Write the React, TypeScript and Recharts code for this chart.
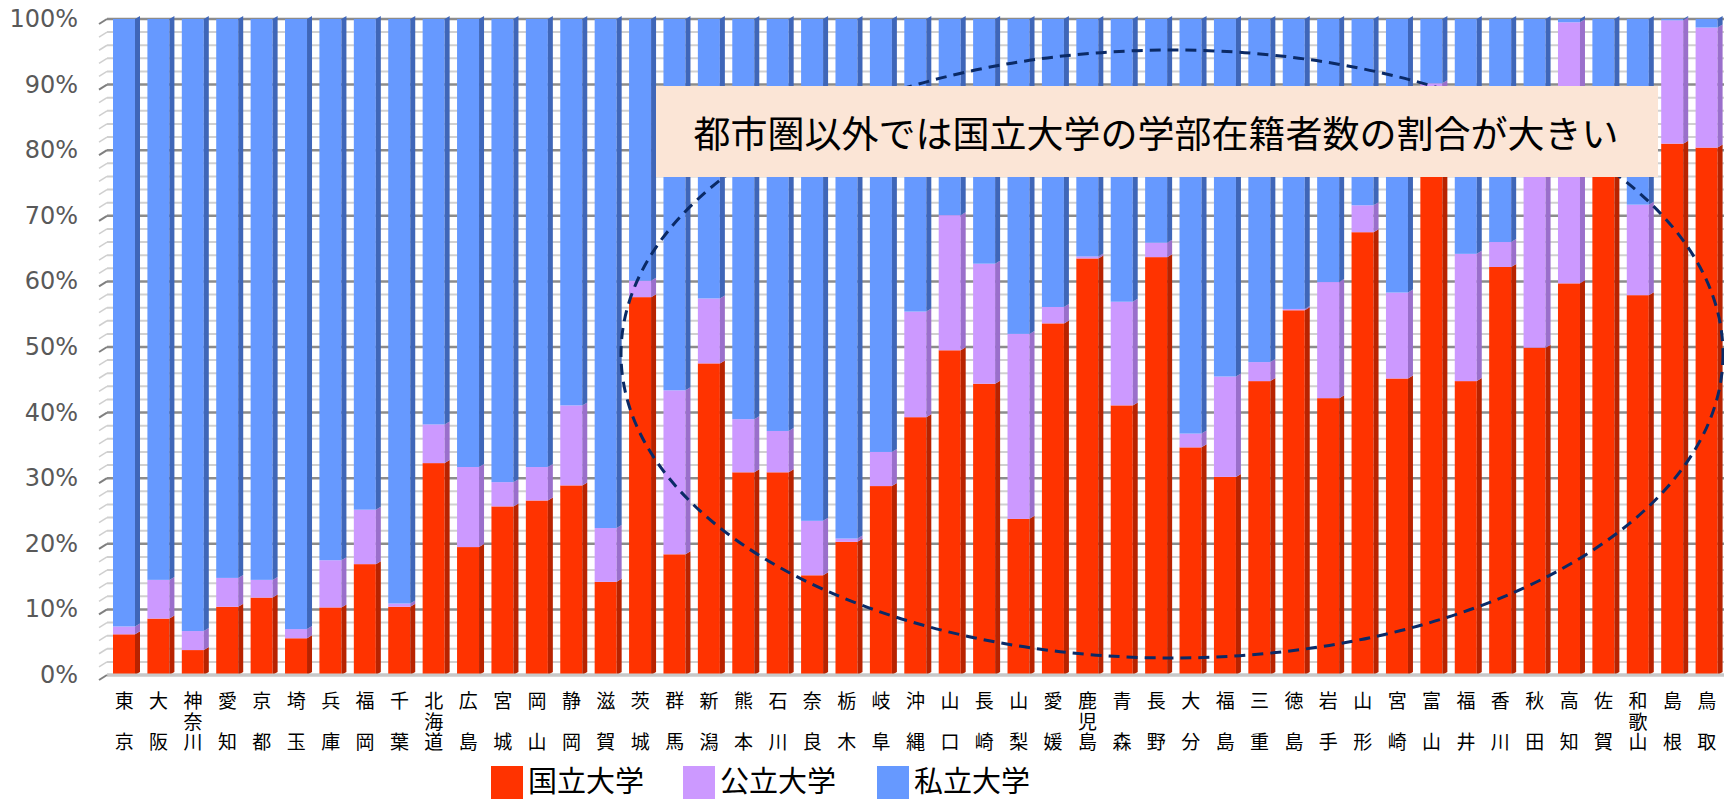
import React from 'react'
import { BarChart, Bar, XAxis, YAxis, CartesianGrid } from 'recharts'

// 都道府県別 学部在籍者数の設置者別割合（%）
const prefectures = [
  '東京', '大阪', '神奈川', '愛知', '京都', '埼玉', '兵庫', '福岡', '千葉', '北海道',
  '広島', '宮城', '岡山', '静岡', '滋賀', '茨城', '群馬', '新潟', '熊本', '石川',
  '奈良', '栃木', '岐阜', '沖縄', '山口', '長崎', '山梨', '愛媛', '鹿児島', '青森',
  '長野', '大分', '福島', '三重', '徳島', '岩手', '山形', '宮崎', '富山', '福井',
  '香川', '秋田', '高知', '佐賀', '和歌山', '島根', '鳥取',
]

const national = [
  6.2, 8.6, 3.8, 10.4, 11.8, 5.6, 10.3, 16.9, 10.4, 32.3,
  19.5, 25.7, 26.6, 28.9, 14.2, 57.6, 18.4, 47.5, 30.9, 30.9,
  15.2, 20.3, 28.8, 39.3, 49.5, 44.4, 23.8, 53.6, 63.5, 41.1,
  63.7, 34.7, 30.2, 44.8, 55.6, 42.2, 67.5, 45.2, 80.0, 44.8,
  62.2, 49.9, 59.7, 80.0, 57.9, 81.0, 80.4,
]

const publicShare = [
  1.2, 5.9, 2.9, 4.4, 2.7, 1.4, 7.2, 8.3, 0.5, 5.9,
  12.2, 3.7, 5.1, 12.2, 8.2, 2.5, 25.0, 9.9, 8.1, 6.3,
  8.3, 0.5, 5.2, 16.1, 20.6, 18.3, 28.2, 2.5, 0.3, 15.8,
  2.2, 2.1, 15.3, 2.9, 0.2, 17.7, 4.1, 13.1, 10.2, 19.4,
  3.8, 32.1, 39.8, 0.3, 13.8, 18.8, 18.3,
]

const privateShare = [
  92.6, 85.5, 93.3, 85.2, 85.5, 93.0, 82.5, 74.8, 89.1, 61.8,
  68.3, 70.6, 68.3, 58.9, 77.6, 39.9, 56.6, 42.6, 61.0, 62.8,
  76.5, 79.2, 66.0, 44.6, 29.9, 37.3, 48.0, 43.9, 36.2, 43.1,
  34.1, 63.2, 54.5, 52.3, 44.2, 40.1, 28.4, 41.7, 9.8, 35.8,
  34.0, 18.0, 0.5, 19.7, 28.3, 0.2, 1.3,
]

const yTicks = [
  0, 2, 4, 6, 8, 10, 12, 14, 16, 18, 20, 22, 24, 26, 28, 30, 32, 34, 36, 38, 40,
  42, 44, 46, 48, 50, 52, 54, 56, 58, 60, 62, 64, 66, 68, 70, 72, 74, 76, 78, 80,
  82, 84, 86, 88, 90, 92, 94, 96, 98, 100,
]

const seriesNames = ['国立大学', '公立大学', '私立大学']
const FRONT = ['#FF3300', '#CC99FF', '#6699FF']
const SIDE = ['#B82300', '#9A6FCB', '#3F66B8']

const rows = prefectures.map((name, i) => ({
  name,
  national: national[i],
  public: publicShare[i],
  private: privateShare[i],
}))

const W = 1724
const H = 799
const PLOT_LEFT = 107
const PLOT_TOP = 19
const PLOT_BOTTOM = 675
const DEPTH = 5
const CJK = '"Noto Sans CJK JP", "Noto Sans CJK SC", sans-serif'

// front face plus a darker slanted side to mimic the 3-D column look
const Block = (props: any) => {
  const { x, y, width, height, fill, side } = props
  if (!height || height <= 0) return null
  const fx = x + 2
  const fw = width - DEPTH
  const rx = fx + fw
  return (
    <g>
      <rect x={fx} y={y} width={fw} height={height} fill={fill} />
      <polygon
        points={`${rx},${y} ${rx + DEPTH},${y - 3} ${rx + DEPTH},${y + height - 3} ${rx},${y + height}`}
        fill={side}
      />
    </g>
  )
}

const YTick = ({ y, payload }: any) => {
  const v = payload.value as number
  const major = v % 10 === 0
  return (
    <g>
      <line
        x1={PLOT_LEFT - 8} y1={y + 5} x2={PLOT_LEFT} y2={y}
        stroke={major ? '#7f7f7f' : '#cfcfcf'} strokeWidth={major ? 2 : 1.5}
      />
      {major && (
        <text
          x={PLOT_LEFT - 29} y={y} textAnchor="end" dominantBaseline="central"
          fontFamily='"DejaVu Sans", Verdana, sans-serif' fontSize={24} fill="#595959"
        >
          {`${v}%`}
        </text>
      )}
    </g>
  )
}

// category names run top to bottom; two-character names are spread to fill three rows
const XTick = ({ x, y, payload }: any) => {
  const name = String(payload.value)
  const gap = name.length === 2 ? 22 : 1.5
  return (
    <text
      x={x} y={y + 8.5} textAnchor="start"
      fontFamily={CJK} fontSize={19} fill="#000"
      style={{ writingMode: 'vertical-rl', letterSpacing: gap }}
    >
      {name}
    </text>
  )
}

const GridLine = (props: any) => {
  const { x1, x2, y1, index } = props
  const major = index % 5 === 0
  return (
    <line
      key={`g-${index}`} x1={x1} x2={x2} y1={y1} y2={y1}
      stroke={major ? '#8c8c8c' : '#d0d0d0'} strokeWidth={major ? 2.5 : 2}
    />
  )
}

export default function App() {
  return (
    <div style={{ position: 'absolute', left: 0, top: 0, width: W, height: H, background: '#fff' }}>
      <BarChart
        width={W}
        height={H}
        data={rows}
        margin={{ top: PLOT_TOP, right: 0, left: 0, bottom: 0 }}
        barSize={27}
      >
        <CartesianGrid vertical={false} horizontal={GridLine} />
        <XAxis
          dataKey="name"
          interval={0}
          height={H - PLOT_BOTTOM}
          tick={<XTick />}
          tickLine={false}
          axisLine={{ stroke: '#c8c8c8', strokeWidth: 3 }}
        />
        <YAxis
          type="number"
          domain={[0, 100]}
          ticks={yTicks}
          interval={0}
          width={PLOT_LEFT}
          tick={<YTick />}
          tickLine={false}
          axisLine={false}
        />
        <Bar dataKey="national" stackId="s" name={seriesNames[0]} fill={FRONT[0]}
          shape={(p: any) => <Block {...p} side={SIDE[0]} />} isAnimationActive={false} />
        <Bar dataKey="public" stackId="s" name={seriesNames[1]} fill={FRONT[1]}
          shape={(p: any) => <Block {...p} side={SIDE[1]} />} isAnimationActive={false} />
        <Bar dataKey="private" stackId="s" name={seriesNames[2]} fill={FRONT[2]}
          shape={(p: any) => <Block {...p} side={SIDE[2]} />} isAnimationActive={false} />
      </BarChart>

      {/* callout: dashed ellipse and the note box */}
      <svg width={W} height={H} style={{ position: 'absolute', left: 0, top: 0, pointerEvents: 'none' }}>
        <ellipse cx={1172} cy={354} rx={551} ry={304} fill="none"
          stroke="#0B2a66" strokeWidth={3} strokeDasharray="11 7" />
        <rect x={656} y={86} width={1002} height={91} fill="#FBE5D6" />
        <text x={1156} y={132} textAnchor="middle" dominantBaseline="central"
          fontFamily={CJK} fontSize={37} fill="#000">
          都市圏以外では国立大学の学部在籍者数の割合が大きい
        </text>
      </svg>

      {/* legend */}
      {seriesNames.map((n, i) => (
        <div key={n} style={{ position: 'absolute', top: 766, left: [491, 683, 877][i], width: 32, height: 33, background: FRONT[i] }} />
      ))}
      {seriesNames.map((n, i) => (
        <div key={`t-${n}`} style={{ position: 'absolute', top: 765, left: [528, 720, 914][i], fontFamily: CJK, fontSize: 29, lineHeight: '29px', color: '#000', whiteSpace: 'nowrap' }}>{n}</div>
      ))}
    </div>
  )
}
